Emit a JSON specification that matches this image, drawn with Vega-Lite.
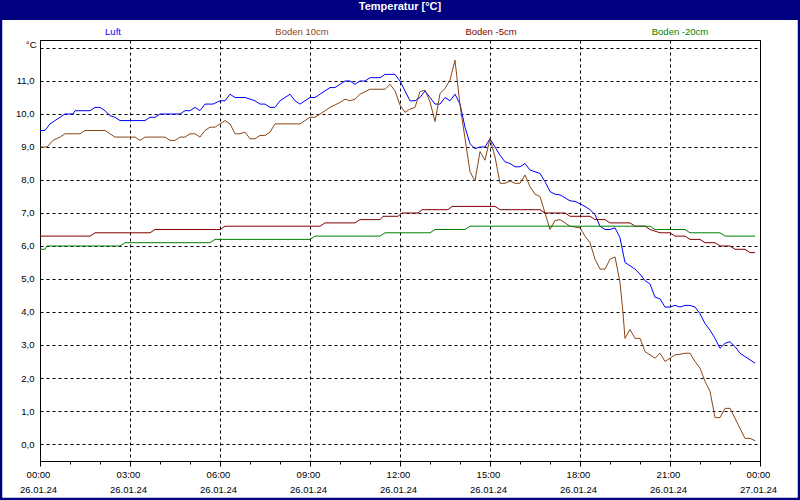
{
  "$schema": "https://vega.github.io/schema/vega-lite/v6.json",
  "width": 720,
  "height": 421,
  "autosize": "none",
  "padding": {"left": 40, "top": 40, "right": 40, "bottom": 39},
  "background": "white",
  "title": {
    "text": "Temperatur [°C]",
    "color": "white",
    "font": "Liberation Sans",
    "fontSize": 11,
    "fontWeight": "bold",
    "anchor": "middle",
    "frame": "group",
    "offset": 0,
    "baseline": "middle",
    "dy": 20
  },
  "config": {
    "view": {"stroke": "black", "strokeWidth": 1, "fill": "white"},
    "font": "Liberation Sans",
    "axis": {"labelFont": "Liberation Sans", "labelFontSize": 9.5, "labelColor": "black"}
  },
  "resolve": {"axis": {"x": "independent", "y": "independent"}},
  "layer": [
    {
      "data": {"values": [{}]},
      "mark": {"type": "rect", "color": "#000080"},
      "encoding": {
        "x": {
          "datum": {"year": 2024, "month": 1, "date": 25, "hours": 22, "minutes": 40},
          "type": "temporal",
          "scale": {"domain": [{"year": 2024, "month": 1, "date": 26, "hours": 0}, {"year": 2024, "month": 1, "date": 27, "hours": 0}]},
          "axis": {
            "orient": "bottom",
            "values": [
              {"year": 2024, "month": 1, "date": 26, "hours": 0}, {"year": 2024, "month": 1, "date": 26, "hours": 1},
              {"year": 2024, "month": 1, "date": 26, "hours": 2}, {"year": 2024, "month": 1, "date": 26, "hours": 3},
              {"year": 2024, "month": 1, "date": 26, "hours": 4}, {"year": 2024, "month": 1, "date": 26, "hours": 5},
              {"year": 2024, "month": 1, "date": 26, "hours": 6}, {"year": 2024, "month": 1, "date": 26, "hours": 7},
              {"year": 2024, "month": 1, "date": 26, "hours": 8}, {"year": 2024, "month": 1, "date": 26, "hours": 9},
              {"year": 2024, "month": 1, "date": 26, "hours": 10}, {"year": 2024, "month": 1, "date": 26, "hours": 11},
              {"year": 2024, "month": 1, "date": 26, "hours": 12}, {"year": 2024, "month": 1, "date": 26, "hours": 13},
              {"year": 2024, "month": 1, "date": 26, "hours": 14}, {"year": 2024, "month": 1, "date": 26, "hours": 15},
              {"year": 2024, "month": 1, "date": 26, "hours": 16}, {"year": 2024, "month": 1, "date": 26, "hours": 17},
              {"year": 2024, "month": 1, "date": 26, "hours": 18}, {"year": 2024, "month": 1, "date": 26, "hours": 19},
              {"year": 2024, "month": 1, "date": 26, "hours": 20}, {"year": 2024, "month": 1, "date": 26, "hours": 21},
              {"year": 2024, "month": 1, "date": 26, "hours": 22}, {"year": 2024, "month": 1, "date": 26, "hours": 23},
              {"year": 2024, "month": 1, "date": 27, "hours": 0}
            ],
            "labels": false,
            "domain": false,
            "grid": false,
            "tickSize": 3,
            "tickColor": "black",
            "title": null
          }
        },
        "x2": {"datum": {"year": 2024, "month": 1, "date": 27, "hours": 1, "minutes": 20}},
        "y": {
          "datum": 13.46,
          "type": "quantitative",
          "scale": {"domain": [-0.515, 12.242], "nice": false, "zero": false},
          "axis": null
        },
        "y2": {"datum": 12.848}
      }
    },
    {
      "data": {"values": [{}]},
      "mark": {"type": "rect", "filled": false, "stroke": "#000080", "strokeWidth": 4.5},
      "encoding": {
        "x": {
          "datum": {"year": 2024, "month": 1, "date": 25, "hours": 22, "minutes": 40},
          "type": "temporal",
          "scale": {"domain": [{"year": 2024, "month": 1, "date": 26, "hours": 0}, {"year": 2024, "month": 1, "date": 27, "hours": 0}]},
          "axis": null
        },
        "x2": {"datum": {"year": 2024, "month": 1, "date": 27, "hours": 1, "minutes": 20}},
        "y": {
          "datum": 13.46,
          "type": "quantitative",
          "scale": {"domain": [-0.515, 12.242], "nice": false, "zero": false},
          "axis": null
        },
        "y2": {"datum": -1.697}
      }
    },
    {
      "data": {
        "values": [
          {"t": "2024-01-26T00:00", "s": "Luft", "v": 9.5},
          {"t": "2024-01-26T00:10", "s": "Luft", "v": 9.5},
          {"t": "2024-01-26T00:20", "s": "Luft", "v": 9.7},
          {"t": "2024-01-26T00:30", "s": "Luft", "v": 9.8},
          {"t": "2024-01-26T00:40", "s": "Luft", "v": 9.9},
          {"t": "2024-01-26T00:50", "s": "Luft", "v": 10.0},
          {"t": "2024-01-26T01:06", "s": "Luft", "v": 10.0},
          {"t": "2024-01-26T01:10", "s": "Luft", "v": 10.1},
          {"t": "2024-01-26T01:40", "s": "Luft", "v": 10.1},
          {"t": "2024-01-26T01:50", "s": "Luft", "v": 10.2},
          {"t": "2024-01-26T02:00", "s": "Luft", "v": 10.2},
          {"t": "2024-01-26T02:10", "s": "Luft", "v": 10.1},
          {"t": "2024-01-26T02:20", "s": "Luft", "v": 9.95},
          {"t": "2024-01-26T02:30", "s": "Luft", "v": 9.9},
          {"t": "2024-01-26T02:40", "s": "Luft", "v": 9.8},
          {"t": "2024-01-26T03:30", "s": "Luft", "v": 9.8},
          {"t": "2024-01-26T03:40", "s": "Luft", "v": 9.9},
          {"t": "2024-01-26T03:50", "s": "Luft", "v": 9.9},
          {"t": "2024-01-26T04:00", "s": "Luft", "v": 10.0},
          {"t": "2024-01-26T04:40", "s": "Luft", "v": 10.0},
          {"t": "2024-01-26T04:50", "s": "Luft", "v": 10.1},
          {"t": "2024-01-26T05:00", "s": "Luft", "v": 10.1},
          {"t": "2024-01-26T05:10", "s": "Luft", "v": 10.2},
          {"t": "2024-01-26T05:20", "s": "Luft", "v": 10.1},
          {"t": "2024-01-26T05:30", "s": "Luft", "v": 10.3},
          {"t": "2024-01-26T05:46", "s": "Luft", "v": 10.3},
          {"t": "2024-01-26T06:00", "s": "Luft", "v": 10.4},
          {"t": "2024-01-26T06:10", "s": "Luft", "v": 10.4},
          {"t": "2024-01-26T06:20", "s": "Luft", "v": 10.6},
          {"t": "2024-01-26T06:30", "s": "Luft", "v": 10.5},
          {"t": "2024-01-26T06:50", "s": "Luft", "v": 10.5},
          {"t": "2024-01-26T07:10", "s": "Luft", "v": 10.4},
          {"t": "2024-01-26T07:20", "s": "Luft", "v": 10.3},
          {"t": "2024-01-26T07:30", "s": "Luft", "v": 10.3},
          {"t": "2024-01-26T07:40", "s": "Luft", "v": 10.2},
          {"t": "2024-01-26T07:50", "s": "Luft", "v": 10.2},
          {"t": "2024-01-26T08:00", "s": "Luft", "v": 10.4},
          {"t": "2024-01-26T08:10", "s": "Luft", "v": 10.5},
          {"t": "2024-01-26T08:20", "s": "Luft", "v": 10.6},
          {"t": "2024-01-26T08:30", "s": "Luft", "v": 10.4},
          {"t": "2024-01-26T08:40", "s": "Luft", "v": 10.3},
          {"t": "2024-01-26T08:50", "s": "Luft", "v": 10.4},
          {"t": "2024-01-26T09:00", "s": "Luft", "v": 10.5},
          {"t": "2024-01-26T09:10", "s": "Luft", "v": 10.5},
          {"t": "2024-01-26T09:20", "s": "Luft", "v": 10.6},
          {"t": "2024-01-26T09:40", "s": "Luft", "v": 10.8},
          {"t": "2024-01-26T09:50", "s": "Luft", "v": 10.8},
          {"t": "2024-01-26T10:00", "s": "Luft", "v": 10.9},
          {"t": "2024-01-26T10:10", "s": "Luft", "v": 11.0},
          {"t": "2024-01-26T10:20", "s": "Luft", "v": 11.0},
          {"t": "2024-01-26T10:30", "s": "Luft", "v": 10.9},
          {"t": "2024-01-26T10:40", "s": "Luft", "v": 11.0},
          {"t": "2024-01-26T10:50", "s": "Luft", "v": 11.0},
          {"t": "2024-01-26T11:00", "s": "Luft", "v": 11.1},
          {"t": "2024-01-26T11:20", "s": "Luft", "v": 11.1},
          {"t": "2024-01-26T11:30", "s": "Luft", "v": 11.2},
          {"t": "2024-01-26T11:50", "s": "Luft", "v": 11.2},
          {"t": "2024-01-26T12:00", "s": "Luft", "v": 11.0},
          {"t": "2024-01-26T12:10", "s": "Luft", "v": 10.7},
          {"t": "2024-01-26T12:20", "s": "Luft", "v": 10.4},
          {"t": "2024-01-26T12:30", "s": "Luft", "v": 10.4},
          {"t": "2024-01-26T12:40", "s": "Luft", "v": 10.5},
          {"t": "2024-01-26T12:50", "s": "Luft", "v": 10.7},
          {"t": "2024-01-26T13:00", "s": "Luft", "v": 10.5},
          {"t": "2024-01-26T13:10", "s": "Luft", "v": 10.3},
          {"t": "2024-01-26T13:20", "s": "Luft", "v": 10.3},
          {"t": "2024-01-26T13:30", "s": "Luft", "v": 10.5},
          {"t": "2024-01-26T13:40", "s": "Luft", "v": 10.4},
          {"t": "2024-01-26T13:50", "s": "Luft", "v": 10.6},
          {"t": "2024-01-26T14:00", "s": "Luft", "v": 10.3},
          {"t": "2024-01-26T14:10", "s": "Luft", "v": 9.6},
          {"t": "2024-01-26T14:20", "s": "Luft", "v": 9.1},
          {"t": "2024-01-26T14:30", "s": "Luft", "v": 8.95},
          {"t": "2024-01-26T14:40", "s": "Luft", "v": 9.0},
          {"t": "2024-01-26T14:50", "s": "Luft", "v": 9.0},
          {"t": "2024-01-26T15:00", "s": "Luft", "v": 9.25},
          {"t": "2024-01-26T15:10", "s": "Luft", "v": 9.0},
          {"t": "2024-01-26T15:20", "s": "Luft", "v": 8.75},
          {"t": "2024-01-26T15:30", "s": "Luft", "v": 8.55},
          {"t": "2024-01-26T15:40", "s": "Luft", "v": 8.5},
          {"t": "2024-01-26T15:50", "s": "Luft", "v": 8.4},
          {"t": "2024-01-26T16:00", "s": "Luft", "v": 8.4},
          {"t": "2024-01-26T16:10", "s": "Luft", "v": 8.5},
          {"t": "2024-01-26T16:20", "s": "Luft", "v": 8.3},
          {"t": "2024-01-26T16:30", "s": "Luft", "v": 8.25},
          {"t": "2024-01-26T16:40", "s": "Luft", "v": 8.2},
          {"t": "2024-01-26T16:50", "s": "Luft", "v": 7.95},
          {"t": "2024-01-26T17:00", "s": "Luft", "v": 7.65},
          {"t": "2024-01-26T17:10", "s": "Luft", "v": 7.57},
          {"t": "2024-01-26T17:20", "s": "Luft", "v": 7.55},
          {"t": "2024-01-26T17:40", "s": "Luft", "v": 7.37},
          {"t": "2024-01-26T17:50", "s": "Luft", "v": 7.35},
          {"t": "2024-01-26T18:00", "s": "Luft", "v": 7.28},
          {"t": "2024-01-26T18:10", "s": "Luft", "v": 7.2},
          {"t": "2024-01-26T18:20", "s": "Luft", "v": 7.1},
          {"t": "2024-01-26T18:30", "s": "Luft", "v": 6.95},
          {"t": "2024-01-26T18:40", "s": "Luft", "v": 6.6},
          {"t": "2024-01-26T18:50", "s": "Luft", "v": 6.5},
          {"t": "2024-01-26T19:00", "s": "Luft", "v": 6.5},
          {"t": "2024-01-26T19:10", "s": "Luft", "v": 6.55},
          {"t": "2024-01-26T19:20", "s": "Luft", "v": 6.25},
          {"t": "2024-01-26T19:30", "s": "Luft", "v": 5.5},
          {"t": "2024-01-26T19:40", "s": "Luft", "v": 5.4},
          {"t": "2024-01-26T19:50", "s": "Luft", "v": 5.3},
          {"t": "2024-01-26T20:00", "s": "Luft", "v": 5.15},
          {"t": "2024-01-26T20:10", "s": "Luft", "v": 4.95},
          {"t": "2024-01-26T20:20", "s": "Luft", "v": 4.85},
          {"t": "2024-01-26T20:30", "s": "Luft", "v": 4.45},
          {"t": "2024-01-26T20:40", "s": "Luft", "v": 4.4},
          {"t": "2024-01-26T20:50", "s": "Luft", "v": 4.15},
          {"t": "2024-01-26T21:00", "s": "Luft", "v": 4.15},
          {"t": "2024-01-26T21:10", "s": "Luft", "v": 4.2},
          {"t": "2024-01-26T21:20", "s": "Luft", "v": 4.15},
          {"t": "2024-01-26T21:30", "s": "Luft", "v": 4.2},
          {"t": "2024-01-26T21:40", "s": "Luft", "v": 4.2},
          {"t": "2024-01-26T21:50", "s": "Luft", "v": 4.15},
          {"t": "2024-01-26T22:00", "s": "Luft", "v": 3.95},
          {"t": "2024-01-26T22:10", "s": "Luft", "v": 3.65},
          {"t": "2024-01-26T22:20", "s": "Luft", "v": 3.45},
          {"t": "2024-01-26T22:30", "s": "Luft", "v": 3.2},
          {"t": "2024-01-26T22:40", "s": "Luft", "v": 2.9},
          {"t": "2024-01-26T22:50", "s": "Luft", "v": 3.05},
          {"t": "2024-01-26T23:00", "s": "Luft", "v": 3.1},
          {"t": "2024-01-26T23:10", "s": "Luft", "v": 2.95},
          {"t": "2024-01-26T23:20", "s": "Luft", "v": 2.75},
          {"t": "2024-01-26T23:30", "s": "Luft", "v": 2.65},
          {"t": "2024-01-26T23:40", "s": "Luft", "v": 2.55},
          {"t": "2024-01-26T23:50", "s": "Luft", "v": 2.45},

          {"t": "2024-01-26T00:00", "s": "Boden 10cm", "v": 9.0},
          {"t": "2024-01-26T00:14", "s": "Boden 10cm", "v": 9.0},
          {"t": "2024-01-26T00:26", "s": "Boden 10cm", "v": 9.2},
          {"t": "2024-01-26T00:40", "s": "Boden 10cm", "v": 9.3},
          {"t": "2024-01-26T00:50", "s": "Boden 10cm", "v": 9.4},
          {"t": "2024-01-26T01:20", "s": "Boden 10cm", "v": 9.4},
          {"t": "2024-01-26T01:30", "s": "Boden 10cm", "v": 9.5},
          {"t": "2024-01-26T02:10", "s": "Boden 10cm", "v": 9.5},
          {"t": "2024-01-26T02:30", "s": "Boden 10cm", "v": 9.3},
          {"t": "2024-01-26T03:10", "s": "Boden 10cm", "v": 9.3},
          {"t": "2024-01-26T03:20", "s": "Boden 10cm", "v": 9.2},
          {"t": "2024-01-26T03:30", "s": "Boden 10cm", "v": 9.3},
          {"t": "2024-01-26T04:10", "s": "Boden 10cm", "v": 9.3},
          {"t": "2024-01-26T04:20", "s": "Boden 10cm", "v": 9.2},
          {"t": "2024-01-26T04:30", "s": "Boden 10cm", "v": 9.2},
          {"t": "2024-01-26T04:40", "s": "Boden 10cm", "v": 9.3},
          {"t": "2024-01-26T04:50", "s": "Boden 10cm", "v": 9.3},
          {"t": "2024-01-26T05:00", "s": "Boden 10cm", "v": 9.4},
          {"t": "2024-01-26T05:10", "s": "Boden 10cm", "v": 9.4},
          {"t": "2024-01-26T05:20", "s": "Boden 10cm", "v": 9.3},
          {"t": "2024-01-26T05:30", "s": "Boden 10cm", "v": 9.5},
          {"t": "2024-01-26T05:40", "s": "Boden 10cm", "v": 9.6},
          {"t": "2024-01-26T05:50", "s": "Boden 10cm", "v": 9.6},
          {"t": "2024-01-26T06:00", "s": "Boden 10cm", "v": 9.7},
          {"t": "2024-01-26T06:10", "s": "Boden 10cm", "v": 9.8},
          {"t": "2024-01-26T06:20", "s": "Boden 10cm", "v": 9.7},
          {"t": "2024-01-26T06:30", "s": "Boden 10cm", "v": 9.4},
          {"t": "2024-01-26T06:40", "s": "Boden 10cm", "v": 9.4},
          {"t": "2024-01-26T06:50", "s": "Boden 10cm", "v": 9.45},
          {"t": "2024-01-26T07:00", "s": "Boden 10cm", "v": 9.25},
          {"t": "2024-01-26T07:10", "s": "Boden 10cm", "v": 9.25},
          {"t": "2024-01-26T07:20", "s": "Boden 10cm", "v": 9.35},
          {"t": "2024-01-26T07:30", "s": "Boden 10cm", "v": 9.35},
          {"t": "2024-01-26T07:40", "s": "Boden 10cm", "v": 9.45},
          {"t": "2024-01-26T07:50", "s": "Boden 10cm", "v": 9.7},
          {"t": "2024-01-26T08:40", "s": "Boden 10cm", "v": 9.7},
          {"t": "2024-01-26T08:50", "s": "Boden 10cm", "v": 9.8},
          {"t": "2024-01-26T09:00", "s": "Boden 10cm", "v": 9.9},
          {"t": "2024-01-26T09:10", "s": "Boden 10cm", "v": 9.9},
          {"t": "2024-01-26T09:20", "s": "Boden 10cm", "v": 10.0},
          {"t": "2024-01-26T09:40", "s": "Boden 10cm", "v": 10.2},
          {"t": "2024-01-26T10:00", "s": "Boden 10cm", "v": 10.35},
          {"t": "2024-01-26T10:10", "s": "Boden 10cm", "v": 10.45},
          {"t": "2024-01-26T10:20", "s": "Boden 10cm", "v": 10.4},
          {"t": "2024-01-26T10:30", "s": "Boden 10cm", "v": 10.45},
          {"t": "2024-01-26T10:40", "s": "Boden 10cm", "v": 10.6},
          {"t": "2024-01-26T11:00", "s": "Boden 10cm", "v": 10.75},
          {"t": "2024-01-26T11:30", "s": "Boden 10cm", "v": 10.75},
          {"t": "2024-01-26T11:40", "s": "Boden 10cm", "v": 10.9},
          {"t": "2024-01-26T11:50", "s": "Boden 10cm", "v": 10.7},
          {"t": "2024-01-26T12:00", "s": "Boden 10cm", "v": 10.27},
          {"t": "2024-01-26T12:10", "s": "Boden 10cm", "v": 10.05},
          {"t": "2024-01-26T12:20", "s": "Boden 10cm", "v": 10.15},
          {"t": "2024-01-26T12:30", "s": "Boden 10cm", "v": 10.2},
          {"t": "2024-01-26T12:40", "s": "Boden 10cm", "v": 10.68},
          {"t": "2024-01-26T12:50", "s": "Boden 10cm", "v": 10.72},
          {"t": "2024-01-26T13:00", "s": "Boden 10cm", "v": 10.37},
          {"t": "2024-01-26T13:10", "s": "Boden 10cm", "v": 9.77},
          {"t": "2024-01-26T13:20", "s": "Boden 10cm", "v": 10.62},
          {"t": "2024-01-26T13:30", "s": "Boden 10cm", "v": 10.77},
          {"t": "2024-01-26T13:40", "s": "Boden 10cm", "v": 11.03},
          {"t": "2024-01-26T13:50", "s": "Boden 10cm", "v": 11.63},
          {"t": "2024-01-26T14:00", "s": "Boden 10cm", "v": 10.27},
          {"t": "2024-01-26T14:10", "s": "Boden 10cm", "v": 9.26},
          {"t": "2024-01-26T14:20", "s": "Boden 10cm", "v": 8.25},
          {"t": "2024-01-26T14:30", "s": "Boden 10cm", "v": 7.97},
          {"t": "2024-01-26T14:40", "s": "Boden 10cm", "v": 8.86},
          {"t": "2024-01-26T14:50", "s": "Boden 10cm", "v": 8.6},
          {"t": "2024-01-26T15:00", "s": "Boden 10cm", "v": 9.26},
          {"t": "2024-01-26T15:10", "s": "Boden 10cm", "v": 8.7},
          {"t": "2024-01-26T15:20", "s": "Boden 10cm", "v": 7.9},
          {"t": "2024-01-26T15:30", "s": "Boden 10cm", "v": 7.9},
          {"t": "2024-01-26T15:40", "s": "Boden 10cm", "v": 7.97},
          {"t": "2024-01-26T15:50", "s": "Boden 10cm", "v": 7.9},
          {"t": "2024-01-26T16:00", "s": "Boden 10cm", "v": 7.9},
          {"t": "2024-01-26T16:10", "s": "Boden 10cm", "v": 8.15},
          {"t": "2024-01-26T16:20", "s": "Boden 10cm", "v": 7.8},
          {"t": "2024-01-26T16:30", "s": "Boden 10cm", "v": 7.57},
          {"t": "2024-01-26T16:40", "s": "Boden 10cm", "v": 7.5},
          {"t": "2024-01-26T16:50", "s": "Boden 10cm", "v": 7.0},
          {"t": "2024-01-26T17:00", "s": "Boden 10cm", "v": 6.5},
          {"t": "2024-01-26T17:10", "s": "Boden 10cm", "v": 6.77},
          {"t": "2024-01-26T17:20", "s": "Boden 10cm", "v": 6.8},
          {"t": "2024-01-26T17:40", "s": "Boden 10cm", "v": 6.6},
          {"t": "2024-01-26T18:00", "s": "Boden 10cm", "v": 6.55},
          {"t": "2024-01-26T18:10", "s": "Boden 10cm", "v": 6.3},
          {"t": "2024-01-26T18:20", "s": "Boden 10cm", "v": 6.1},
          {"t": "2024-01-26T18:30", "s": "Boden 10cm", "v": 5.6},
          {"t": "2024-01-26T18:40", "s": "Boden 10cm", "v": 5.3},
          {"t": "2024-01-26T18:50", "s": "Boden 10cm", "v": 5.3},
          {"t": "2024-01-26T19:00", "s": "Boden 10cm", "v": 5.6},
          {"t": "2024-01-26T19:10", "s": "Boden 10cm", "v": 5.67},
          {"t": "2024-01-26T19:20", "s": "Boden 10cm", "v": 4.9},
          {"t": "2024-01-26T19:26", "s": "Boden 10cm", "v": 3.97},
          {"t": "2024-01-26T19:30", "s": "Boden 10cm", "v": 3.2},
          {"t": "2024-01-26T19:40", "s": "Boden 10cm", "v": 3.47},
          {"t": "2024-01-26T19:50", "s": "Boden 10cm", "v": 3.2},
          {"t": "2024-01-26T20:00", "s": "Boden 10cm", "v": 3.2},
          {"t": "2024-01-26T20:10", "s": "Boden 10cm", "v": 2.8},
          {"t": "2024-01-26T20:20", "s": "Boden 10cm", "v": 2.7},
          {"t": "2024-01-26T20:30", "s": "Boden 10cm", "v": 2.6},
          {"t": "2024-01-26T20:40", "s": "Boden 10cm", "v": 2.75},
          {"t": "2024-01-26T20:50", "s": "Boden 10cm", "v": 2.5},
          {"t": "2024-01-26T21:00", "s": "Boden 10cm", "v": 2.6},
          {"t": "2024-01-26T21:10", "s": "Boden 10cm", "v": 2.7},
          {"t": "2024-01-26T21:20", "s": "Boden 10cm", "v": 2.72},
          {"t": "2024-01-26T21:30", "s": "Boden 10cm", "v": 2.75},
          {"t": "2024-01-26T21:40", "s": "Boden 10cm", "v": 2.75},
          {"t": "2024-01-26T21:50", "s": "Boden 10cm", "v": 2.5},
          {"t": "2024-01-26T22:00", "s": "Boden 10cm", "v": 2.3},
          {"t": "2024-01-26T22:10", "s": "Boden 10cm", "v": 1.9},
          {"t": "2024-01-26T22:20", "s": "Boden 10cm", "v": 1.6},
          {"t": "2024-01-26T22:30", "s": "Boden 10cm", "v": 0.8},
          {"t": "2024-01-26T22:40", "s": "Boden 10cm", "v": 0.8},
          {"t": "2024-01-26T22:50", "s": "Boden 10cm", "v": 1.08},
          {"t": "2024-01-26T23:00", "s": "Boden 10cm", "v": 1.08},
          {"t": "2024-01-26T23:10", "s": "Boden 10cm", "v": 0.78},
          {"t": "2024-01-26T23:20", "s": "Boden 10cm", "v": 0.47},
          {"t": "2024-01-26T23:30", "s": "Boden 10cm", "v": 0.17},
          {"t": "2024-01-26T23:40", "s": "Boden 10cm", "v": 0.17},
          {"t": "2024-01-26T23:50", "s": "Boden 10cm", "v": 0.1},

          {"t": "2024-01-26T00:00", "s": "Boden -5cm", "v": 6.3},
          {"t": "2024-01-26T01:40", "s": "Boden -5cm", "v": 6.3},
          {"t": "2024-01-26T01:50", "s": "Boden -5cm", "v": 6.4},
          {"t": "2024-01-26T03:40", "s": "Boden -5cm", "v": 6.4},
          {"t": "2024-01-26T03:50", "s": "Boden -5cm", "v": 6.5},
          {"t": "2024-01-26T06:00", "s": "Boden -5cm", "v": 6.5},
          {"t": "2024-01-26T06:10", "s": "Boden -5cm", "v": 6.6},
          {"t": "2024-01-26T09:20", "s": "Boden -5cm", "v": 6.6},
          {"t": "2024-01-26T09:30", "s": "Boden -5cm", "v": 6.7},
          {"t": "2024-01-26T10:30", "s": "Boden -5cm", "v": 6.7},
          {"t": "2024-01-26T10:40", "s": "Boden -5cm", "v": 6.8},
          {"t": "2024-01-26T11:20", "s": "Boden -5cm", "v": 6.8},
          {"t": "2024-01-26T11:26", "s": "Boden -5cm", "v": 6.9},
          {"t": "2024-01-26T11:56", "s": "Boden -5cm", "v": 6.9},
          {"t": "2024-01-26T12:04", "s": "Boden -5cm", "v": 7.0},
          {"t": "2024-01-26T12:36", "s": "Boden -5cm", "v": 7.0},
          {"t": "2024-01-26T12:44", "s": "Boden -5cm", "v": 7.1},
          {"t": "2024-01-26T13:36", "s": "Boden -5cm", "v": 7.1},
          {"t": "2024-01-26T13:44", "s": "Boden -5cm", "v": 7.2},
          {"t": "2024-01-26T15:10", "s": "Boden -5cm", "v": 7.2},
          {"t": "2024-01-26T15:20", "s": "Boden -5cm", "v": 7.1},
          {"t": "2024-01-26T16:40", "s": "Boden -5cm", "v": 7.1},
          {"t": "2024-01-26T16:50", "s": "Boden -5cm", "v": 7.0},
          {"t": "2024-01-26T17:30", "s": "Boden -5cm", "v": 7.0},
          {"t": "2024-01-26T17:40", "s": "Boden -5cm", "v": 6.9},
          {"t": "2024-01-26T18:20", "s": "Boden -5cm", "v": 6.9},
          {"t": "2024-01-26T18:30", "s": "Boden -5cm", "v": 6.8},
          {"t": "2024-01-26T18:50", "s": "Boden -5cm", "v": 6.8},
          {"t": "2024-01-26T19:00", "s": "Boden -5cm", "v": 6.7},
          {"t": "2024-01-26T19:40", "s": "Boden -5cm", "v": 6.7},
          {"t": "2024-01-26T19:50", "s": "Boden -5cm", "v": 6.6},
          {"t": "2024-01-26T20:10", "s": "Boden -5cm", "v": 6.6},
          {"t": "2024-01-26T20:20", "s": "Boden -5cm", "v": 6.5},
          {"t": "2024-01-26T20:30", "s": "Boden -5cm", "v": 6.45},
          {"t": "2024-01-26T20:40", "s": "Boden -5cm", "v": 6.4},
          {"t": "2024-01-26T21:00", "s": "Boden -5cm", "v": 6.4},
          {"t": "2024-01-26T21:10", "s": "Boden -5cm", "v": 6.3},
          {"t": "2024-01-26T21:30", "s": "Boden -5cm", "v": 6.3},
          {"t": "2024-01-26T21:40", "s": "Boden -5cm", "v": 6.2},
          {"t": "2024-01-26T22:00", "s": "Boden -5cm", "v": 6.2},
          {"t": "2024-01-26T22:10", "s": "Boden -5cm", "v": 6.1},
          {"t": "2024-01-26T22:30", "s": "Boden -5cm", "v": 6.1},
          {"t": "2024-01-26T22:40", "s": "Boden -5cm", "v": 6.0},
          {"t": "2024-01-26T23:00", "s": "Boden -5cm", "v": 6.0},
          {"t": "2024-01-26T23:10", "s": "Boden -5cm", "v": 5.9},
          {"t": "2024-01-26T23:30", "s": "Boden -5cm", "v": 5.9},
          {"t": "2024-01-26T23:40", "s": "Boden -5cm", "v": 5.8},
          {"t": "2024-01-26T23:50", "s": "Boden -5cm", "v": 5.8},

          {"t": "2024-01-26T00:00", "s": "Boden -20cm", "v": 5.9},
          {"t": "2024-01-26T00:10", "s": "Boden -20cm", "v": 5.9},
          {"t": "2024-01-26T00:14", "s": "Boden -20cm", "v": 6.0},
          {"t": "2024-01-26T02:40", "s": "Boden -20cm", "v": 6.0},
          {"t": "2024-01-26T02:50", "s": "Boden -20cm", "v": 6.1},
          {"t": "2024-01-26T05:40", "s": "Boden -20cm", "v": 6.1},
          {"t": "2024-01-26T05:50", "s": "Boden -20cm", "v": 6.2},
          {"t": "2024-01-26T09:00", "s": "Boden -20cm", "v": 6.2},
          {"t": "2024-01-26T09:10", "s": "Boden -20cm", "v": 6.3},
          {"t": "2024-01-26T11:20", "s": "Boden -20cm", "v": 6.3},
          {"t": "2024-01-26T11:30", "s": "Boden -20cm", "v": 6.4},
          {"t": "2024-01-26T13:00", "s": "Boden -20cm", "v": 6.4},
          {"t": "2024-01-26T13:10", "s": "Boden -20cm", "v": 6.5},
          {"t": "2024-01-26T14:10", "s": "Boden -20cm", "v": 6.5},
          {"t": "2024-01-26T14:20", "s": "Boden -20cm", "v": 6.6},
          {"t": "2024-01-26T20:20", "s": "Boden -20cm", "v": 6.6},
          {"t": "2024-01-26T20:30", "s": "Boden -20cm", "v": 6.5},
          {"t": "2024-01-26T21:30", "s": "Boden -20cm", "v": 6.5},
          {"t": "2024-01-26T21:40", "s": "Boden -20cm", "v": 6.4},
          {"t": "2024-01-26T22:40", "s": "Boden -20cm", "v": 6.4},
          {"t": "2024-01-26T22:50", "s": "Boden -20cm", "v": 6.3},
          {"t": "2024-01-26T23:50", "s": "Boden -20cm", "v": 6.3}
        ]
      },
      "mark": {"type": "line", "strokeWidth": 1},
      "encoding": {
        "x": {
          "field": "t",
          "type": "temporal",
          "scale": {"domain": [{"year": 2024, "month": 1, "date": 26, "hours": 0}, {"year": 2024, "month": 1, "date": 27, "hours": 0}]},
          "axis": {
            "orient": "bottom",
            "values": [
              {"year": 2024, "month": 1, "date": 26, "hours": 0}, {"year": 2024, "month": 1, "date": 26, "hours": 3},
              {"year": 2024, "month": 1, "date": 26, "hours": 6}, {"year": 2024, "month": 1, "date": 26, "hours": 9},
              {"year": 2024, "month": 1, "date": 26, "hours": 12}, {"year": 2024, "month": 1, "date": 26, "hours": 15},
              {"year": 2024, "month": 1, "date": 26, "hours": 18}, {"year": 2024, "month": 1, "date": 26, "hours": 21},
              {"year": 2024, "month": 1, "date": 27, "hours": 0}
            ],
            "labelExpr": "[timeFormat(datum.value, '%H:%M'), timeFormat(datum.value, '%d.%m.%y')]",
            "labelLineHeight": 15.5,
            "labelPadding": 3,
            "labelOffset": -2,
            "labelFlush": false,
            "labelOverlap": false,
            "labelBound": false,
            "title": null,
            "grid": true,
            "gridColor": "black",
            "gridOpacity": 1,
            "gridDash": [3, 3],
            "tickSize": 5,
            "tickColor": "black",
            "domainColor": "black"
          }
        },
        "y": {
          "field": "v",
          "type": "quantitative",
          "scale": {"domain": [-0.515, 12.242], "nice": false, "zero": false},
          "axis": {
            "orient": "left",
            "values": [0, 1, 2, 3, 4, 5, 6, 7, 8, 9, 10, 11, 12],
            "labelExpr": "datum.value == 12 ? '' : replace(format(datum.value, '.1f'), '.', ',')",
            "title": "°C",
            "titleAngle": 0,
            "titleAlign": "right",
            "titleBaseline": "middle",
            "titleX": -4,
            "titleY": 4,
            "titleFont": "Liberation Sans",
            "titleFontSize": 9.5,
            "titleFontWeight": "normal",
            "titleColor": "black",
            "grid": true,
            "gridColor": "black",
            "gridOpacity": 1,
            "gridDash": [3, 3],
            "ticks": false,
            "tickSize": 0,
            "labelPadding": 6,
            "domainColor": "black"
          }
        },
        "color": {
          "field": "s",
          "type": "nominal",
          "scale": {
            "domain": ["Luft", "Boden 10cm", "Boden -5cm", "Boden -20cm"],
            "range": ["#0000ff", "#8b4513", "#800000", "#008000"]
          },
          "legend": {
            "orient": "none",
            "legendX": 43,
            "legendY": -38,
            "direction": "horizontal",
            "title": null,
            "padding": 0,
            "symbolType": "M-1,-0.05H1V0.05H-1Z",
            "symbolSize": 3600,
            "symbolOpacity": 0,
            "symbolStrokeWidth": 0,
            "labelAlign": "center",
            "labelBaseline": "middle",
            "labelOffset": -30,
            "columnPadding": 129,
            "labelFont": "Liberation Sans",
            "labelFontSize": 9.5,
            "encode": {"labels": {"update": {"fill": {"scale": "color", "field": "value"}}}}
          }
        }
      }
    }
  ]
}
